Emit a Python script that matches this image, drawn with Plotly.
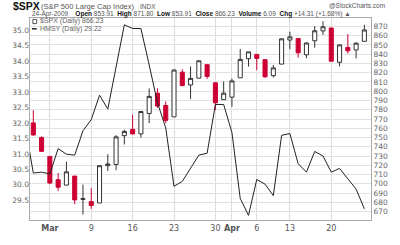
import plotly.graph_objects as go

# ---- data ----
dates = ["Feb26","Feb27","Mar2","Mar3","Mar4","Mar5","Mar6","Mar9","Mar10","Mar11",
         "Mar12","Mar13","Mar16","Mar17","Mar18","Mar19","Mar20","Mar23","Mar24","Mar25",
         "Mar26","Mar27","Mar30","Mar31","Apr1","Apr2","Apr3","Apr6","Apr7","Apr8",
         "Apr9","Apr13","Apr14","Apr15","Apr16","Apr17","Apr20","Apr21","Apr22","Apr23","Apr24"]
spx_open  = [765.8,749.9,729.6,704.4,698.6,708.3,684.0,680.8,679.3,719.6,
             720.9,752.0,758.8,753.9,776.0,797.9,784.6,772.3,820.6,806.8,
             814.1,828.7,809.1,790.9,793.6,814.5,835.1,839.8,834.1,816.8,
             829.3,855.3,856.9,839.4,854.5,865.2,868.3,831.3,847.3,844.6,853.9]
spx_high  = [779.4,751.3,729.6,711.7,724.1,708.3,699.1,695.3,719.6,731.9,
             752.6,758.3,774.5,778.1,803.0,803.2,788.9,823.4,823.7,826.8,
             833.0,828.7,809.1,810.5,813.6,845.6,842.5,839.8,834.1,828.4,
             856.9,864.3,856.9,852.9,870.4,875.6,868.3,850.1,861.8,852.9,871.8]
spx_low   = [751.8,734.5,699.7,692.3,698.6,677.9,666.8,672.9,679.3,713.9,
             714.8,742.5,753.4,749.9,765.6,781.8,765.5,772.3,805.5,791.4,
             814.1,813.4,779.8,790.9,783.3,814.5,826.7,822.8,814.5,814.8,
             829.3,845.4,836.3,835.6,847.0,860.9,832.4,826.8,840.6,835.5,853.9]
spx_close = [752.8,735.1,700.8,696.3,712.9,682.6,683.4,676.5,719.6,721.4,
             750.7,756.6,753.9,778.1,794.4,784.0,768.5,822.9,806.1,813.9,
             832.9,815.9,787.5,797.9,811.1,834.4,842.5,835.5,815.6,825.2,
             856.6,858.7,841.5,852.1,865.3,869.6,832.4,850.1,843.6,851.9,866.2]
spx_prev_close = 764.9

# HMSY line (first value is the day before the visible window)
hmsy_idx = list(range(-1, 41))
hmsy = [31.93,30.38,30.41,30.35,31.17,30.99,30.96,31.75,32.11,32.90,32.45,
        33.81,35.18,35.06,35.06,33.88,32.66,31.84,29.95,30.11,30.53,
        30.96,31.02,32.60,32.60,31.69,29.56,29.01,30.17,30.02,29.65,
        31.60,31.66,30.68,30.41,31.08,30.93,30.41,30.53,30.20,29.86,29.22]

tick_pos = [2, 7, 12, 17, 22, 24, 27, 31, 36]
tick_txt = ["<b>Mar</b>", "9", "16", "23", "30", "<b>Apr</b>", "6", "13", "20"]
left_ticks = [29.5 + 0.5 * k for k in range(12)]
right_ticks = list(range(670, 871, 10))

# ---- layout geometry ----
W, H = 400, 245
L, R, T, B = 22, 20, 18, 12
RED = "#cc0033"
INK = "#333333"

x_idx = list(range(len(dates)))
groups = {"ub": [], "dr": [], "db": [], "ur": []}
prev = spx_prev_close
for i in x_idx:
    up = spx_close[i] >= spx_open[i]
    blk = spx_close[i] >= prev
    key = ("u" if up else "d") + ("b" if blk else "r")
    groups[key].append(i)
    prev = spx_close[i]

style = {"ub": ("white", INK), "dr": (RED, RED), "db": (INK, INK), "ur": ("white", RED)}

fig = go.Figure()
for key, idxs in groups.items():
    if not idxs:
        continue
    fill, line = style[key]
    fig.add_trace(go.Candlestick(
        x=idxs,
        open=[spx_open[i] for i in idxs], high=[spx_high[i] for i in idxs],
        low=[spx_low[i] for i in idxs], close=[spx_close[i] for i in idxs],
        increasing=dict(fillcolor=fill, line=dict(color=line, width=1)),
        decreasing=dict(fillcolor=fill, line=dict(color=line, width=1)),
        whiskerwidth=0, yaxis="y", showlegend=False, hoverinfo="skip"))

fig.add_trace(go.Scatter(x=hmsy_idx, y=hmsy, mode="lines", yaxis="y2",
                         line=dict(color="#222222", width=1), showlegend=False,
                         hoverinfo="skip"))

FONT = "DejaVu Sans"
HF = "Liberation Sans"
fig.update_layout(
    width=W, height=H, margin=dict(l=L, r=R, t=T, b=B),
    paper_bgcolor="white", plot_bgcolor="white",
    font=dict(family=FONT, size=8, color="#555555"),
    xaxis=dict(range=[-0.4, 40.8], tickvals=tick_pos, ticktext=tick_txt,
               showgrid=True, gridcolor="#dddddd", gridwidth=1, zeroline=False,
               showline=True, linecolor="#aaaaaa", linewidth=1, mirror=True,
               ticks="", tickfont=dict(size=8, color="#555555"),
               rangeslider=dict(visible=False)),
    yaxis=dict(range=[660.9, 879.1], side="right", tickvals=right_ticks,
               showgrid=True, gridcolor="#e2e2e2", gridwidth=1, zeroline=False,
               showline=True, linecolor="#aaaaaa", linewidth=1, mirror=True,
               ticks="", tickfont=dict(size=7.5, color="#666666")),
    yaxis2=dict(range=[28.86, 35.4], side="left", overlaying="y",
                tickvals=left_ticks, ticktext=["%.1f" % v for v in left_ticks],
                showgrid=False, zeroline=False, ticks="",
                tickfont=dict(size=7.5, color="#666666")),
)

def px(x):
    return (x - L) / (W - L - R)

def py(y):
    return (H - B - y) / (H - T - B)

anns = [
    dict(x=px(3), y=py(5.5), text="<b>$SPX</b>", font=dict(family=HF, size=10.5, color="#111111")),
    dict(x=px(33), y=py(6), text="(S&P 500 Large Cap Index)", font=dict(family=HF, size=7.6, color="#555555")),
    dict(x=px(136), y=py(6), text="INDX", font=dict(family=HF, size=6.5, color="#555555")),
    dict(x=px(23), y=py(14),
         text=("24-Apr-2009 &nbsp; &nbsp;<b><span style='color:#111'>Open</span></b> 853.91 "
               "&nbsp;<b><span style='color:#111'>High</span></b> 871.80 "
               "&nbsp;<b><span style='color:#111'>Low</span></b> 853.91 "
               "&nbsp;<b><span style='color:#111'>Close</span></b> 866.23 "
               "&nbsp;<b><span style='color:#111'>Volume</span></b> 6.09 "
               "&nbsp;<b><span style='color:#111'>Chg</span></b> +14.31 (+1.68%) ▲"),
         font=dict(family=HF, size=6.5, color="#555555")),
    dict(x=px(396), y=py(4.5), text="@StockCharts.com", xanchor="right",
         font=dict(family=HF, size=6.5, color="#555555")),
    dict(x=px(31), y=py(21.5), text="$SPX (Daily) 866.23", font=dict(family=HF, size=7, color="#666666")),
    dict(x=px(31), y=py(29.5), text="HMSY (Daily) 29.22", font=dict(family=HF, size=7, color="#666666")),
]
for a in anns:
    a.setdefault("xanchor", "left")
    a.update(xref="paper", yref="paper", yanchor="middle", showarrow=False, borderpad=0)
fig.update_layout(annotations=anns)

shapes = [
    dict(type="rect", x0=px(25), x1=px(29), y0=py(24), y1=py(19.5),
         line=dict(color="#555555", width=1), fillcolor="white"),
    dict(type="line", x0=px(24), x1=px(29), y0=py(29.5), y1=py(29.5),
         line=dict(color="#222222", width=1.5)),
]
for s in shapes:
    s.update(xref="paper", yref="paper")
fig.update_layout(shapes=shapes)

fig.write_html("out.html")
